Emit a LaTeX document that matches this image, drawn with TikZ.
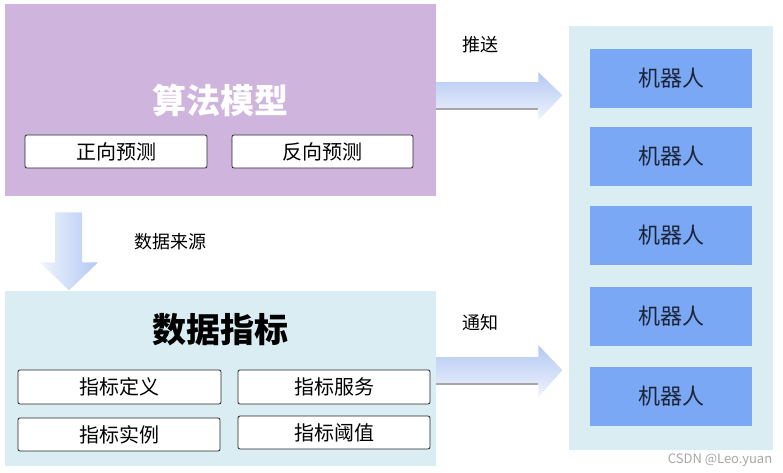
\documentclass[tikz,border=0pt]{standalone}
\usepackage{fontspec}
\setmainfont{Noto Sans CJK SC}
\usetikzlibrary{positioning,calc}
\definecolor{Lilac}{HTML}{CFB5DE}
\definecolor{Ice}{HTML}{DAEDF2}
\definecolor{Robot}{HTML}{7BA8F5}
\definecolor{ArrowBlue}{HTML}{B3C8F3}
\definecolor{Navy}{HTML}{1B2438}

\begin{document}
\begin{tikzpicture}[x=1pt,y=-1pt,
  panel/.style={rectangle,inner sep=0pt,anchor=north west},
  item/.style={draw=black!85,fill=white,rounded corners=2pt,line width=0.8pt,
    minimum height=33pt,inner sep=0pt,font=\fontsize{20}{22}\selectfont},
  robot/.style={fill=Robot,minimum width=162pt,minimum height=59pt,
    inner sep=0pt,font=\fontsize{22}{24}\selectfont,text=Navy},
  title/.style={font=\bfseries\fontsize{34}{36}\selectfont},
  note/.style={font=\fontsize{18}{20}\selectfont},
  flowright/.style={top color=ArrowBlue,bottom color=ArrowBlue!20},
  flowdown/.style={left color=ArrowBlue!20,right color=ArrowBlue}]
        \useasboundingbox (0,0) rectangle (783,473);
        % left panels
        \node[panel,fill=Lilac,minimum width=431pt,minimum height=192pt] (algo) at (5,4) {};
        \node[title,text=white] (algotitle) at (220,100) {算法模型};
        \node[item,minimum width=182pt] (forward) at (116,151.5) {正向预测};
        \node[item,minimum width=181pt] (backward) at (322.5,151.5) {反向预测};
        \node[panel,fill=Ice,minimum width=431pt,minimum height=175pt] (data) at (5,291) {};
        \node[title,text=black] (datatitle) at (220,330) {数据指标};
        \node[item,minimum width=203pt,minimum height=34pt] (idxdef) at (119.5,387) {指标定义};
        \node[item,minimum width=192pt,minimum height=34pt] (idxsrv) at (334,387) {指标服务};
        \node[item,minimum width=202pt] (idxinst) at (119,434.5) {指标实例};
        \node[item,minimum width=192pt] (idxlim) at (334,432.5) {指标阈值};
        % robots
        \node[panel,fill=Ice,minimum width=204pt,minimum height=424pt] (bots) at (569,26) {};
        \foreach \y/\n in {78.5/1,156.5/2,235.5/3,316/4,396.5/5}
          \node[robot] (bot\n) at (671,\y) {机器人};
        % block arrows
        \path[flowright] ($(algo.east)+(0,-18)$) -- ++(102,0) -- ++(0,-10) -- ++(24,23)
          -- ++(-24,25) -- ++(0,-12) -- ++(-102,0) -- cycle;
        \draw[gray!70,line width=2pt] ($(algo.east)+(0,9)$) -- ++(102,0);
        \path[flowright] ($(data.east)+(0,-21.5)$) -- ++(102,0) -- ++(0,-12) -- ++(24,25)
          -- ++(-24,27) -- ++(0,-14) -- ++(-102,0) -- cycle;
        \draw[gray!70,line width=2pt] ($(data.east)+(0,5.5)$) -- ++(102,0);
        \path[flowdown] ($(algo.south west)+(50,16)$) -- ++(27,0) -- ++(0,50) -- ++(16,0)
          -- ++(-29,28) -- ++(-29,-28) -- ++(15,0) -- cycle;
        % labels
        \node[note] (push) at (480,45) {推送};
        \node[note] (notify) at (480,323) {通知};
        \node[note] (source) at (170,242) {数据来源};
        \node[font=\fontsize{13}{14}\selectfont,text=gray!70] (mark) at (720,460) {CSDN @Leo.yuan};
      \end{tikzpicture}
\end{document}
